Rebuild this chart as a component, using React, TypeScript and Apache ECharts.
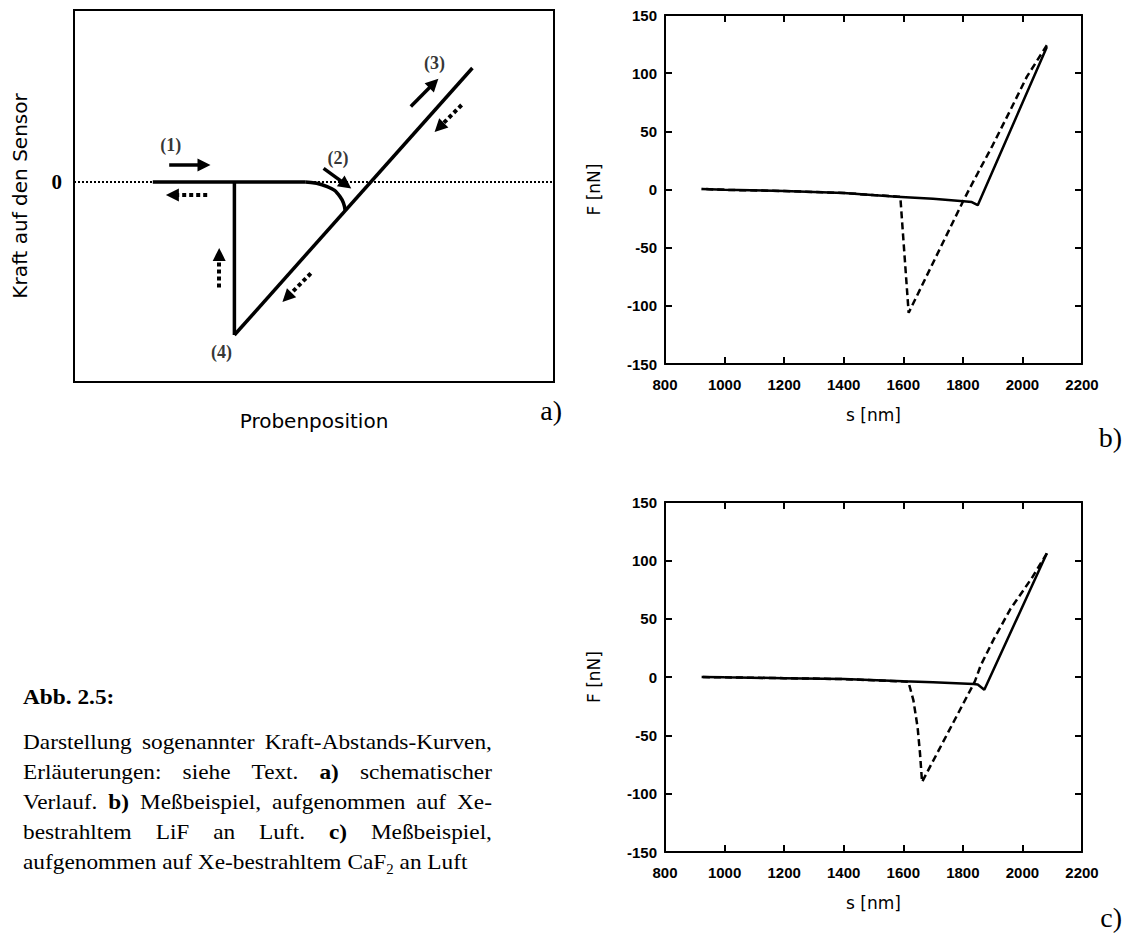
import React, { useEffect, useRef } from 'react';
import * as echarts from 'echarts';

// ---- Panel a: schematic force-distance curve (arbitrary units) ----
const schemX = [0, 120];
const schemY = [-100, 86];
const zeroLine = [[0, 0], [120, 0]];
const approachFlat = [[19.7, 0], [57.8, 0]];
const snapIn = [[57.8, 0], [63.3, -2.3], [66.5, -7.3], [67.8, -14.3]];
const contactLine = [[40.1, -76.5], [99.6, 57]];
const pullOff = [[40.1, 0], [40.1, -76.5]];
const solidArrows = [
  [[23.8, 8.5], [32.5, 8.5]],
  [[62.4, 6.8], [68.0, -1.35]],
  [[84.2, 37.7], [89.95, 49.35]],
];
const dottedArrows = [
  [[33.3, -6.5], [24.6, -6.5]],
  [[96.9, 38.5], [91.3, 27.3]],
  [[59.2, -45.7], [53.25, -57.7]],
  [[36.3, -52.7], [36.3, -36.2]],
];
const stepLabels = ['(1)', '(2)', '(3)', '(4)'];
const stepLabelPos = [[24.2, 18.5], [66.0, 11.8], [90.1, 59.3], [36.9, -84.8]];

// ---- Panel b: Xe-irradiated LiF in air ----
const sApproachB = [923, 1000, 1200, 1400, 1578, 1700, 1802, 1830, 1850, 2082];
const fApproachB = [0.5, -0.3, -1.3, -3.0, -6.2, -8.0, -10.0, -10.8, -13.5, 122.5];
const sRetractB = [2082, 2015, 1959, 1900, 1850, 1821, 1802, 1618, 1590, 1500, 1400, 1200, 1000, 923];
const fRetractB = [124, 97, 68, 38, 14, 0, -9.5, -106, -6.2, -4.8, -3.0, -1.3, -0.3, 0.5];

// ---- Panel c: Xe-irradiated CaF2 in air ----
const sApproachC = [923, 1000, 1200, 1400, 1600, 1700, 1836, 1850, 1872, 2082];
const fApproachC = [0, -0.3, -1.0, -1.8, -3.7, -4.5, -6.0, -6.5, -11, 106];
const sRetractC = [2082, 2032, 1959, 1903, 1860, 1840, 1663, 1656, 1648, 1634, 1617, 1500, 1400, 1200, 1000, 923];
const fRetractC = [106, 85, 58, 32, 10, -4, -90, -65, -43, -20, -4, -2.8, -1.8, -1.0, -0.3, 0];

const sRange = [800, 2200];
const sStep = 200;
const fRange = [-150, 150];
const fStep = 50;

// ---- Caption ----
const captionHeading = 'Abb. 2.5:';
const captionLines = [
  'Darstellung sogenannter Kraft-Abstands-Kurven,',
  'Erläuterungen: siehe Text. *a)* schematischer',
  'Verlauf. *b)* Meßbeispiel, aufgenommen auf Xe-',
  'bestrahltem LiF an Luft. *c)* Meßbeispiel,',
  'aufgenommen auf Xe-bestrahltem CaF_2 an Luft',
];
const panelTags = ['a)', 'b)', 'c)'];

const zip = (xs: number[], ys: number[]) => xs.map((x, i) => [x, ys[i]]);

const SERIF = 'Liberation Serif';
const SANS = 'Liberation Sans';
const WIDE = 'DejaVu Sans';

function buildCaption(): any[] {
  const ctx = document.createElement('canvas').getContext('2d')!;
  const FS = 22;
  const SUB = 14;
  const SX = 1.06;
  const LEFT = 23;
  const RIGHT = 492;
  const Y0 = 742;
  const PITCH = 30;
  const measure = (t: string, bold: boolean, size = FS) => {
    ctx.font = `${bold ? 'bold ' : ''}${size}px "${SERIF}"`;
    return ctx.measureText(t).width * SX;
  };
  const els: any[] = [];
  const txt = (t: string, x: number, y: number, bold: boolean, size = FS) => ({
    type: 'text',
    x,
    y,
    scaleX: SX,
    silent: true,
    style: {
      text: t,
      fontFamily: SERIF,
      fontSize: size,
      fontWeight: bold ? 'bold' : 'normal',
      fill: '#000',
      align: 'left',
      verticalAlign: 'middle',
      textAlign: 'left',
      textVerticalAlign: 'middle',
    },
  });
  els.push(txt(captionHeading, LEFT, 697, true));
  captionLines.forEach((line, li) => {
    const words = line.split(' ').map((w) => {
      const bold = w.startsWith('*') && w.endsWith('*');
      const clean = bold ? w.slice(1, -1) : w;
      const [base, sub] = clean.split('_');
      const width = measure(base, bold) + (sub ? measure(sub, bold, SUB) : 0);
      return { base, sub, bold, width };
    });
    const total = words.reduce((a, w) => a + w.width, 0);
    const last = li === captionLines.length - 1;
    const gap = last ? measure(' ', false) : (RIGHT - LEFT - total) / (words.length - 1);
    const y = Y0 + li * PITCH;
    let x = LEFT;
    words.forEach((w) => {
      els.push(txt(w.base, x, y, w.bold));
      if (w.sub) els.push(txt(w.sub, x + measure(w.base, w.bold), y + 7, w.bold, SUB));
      x += w.width + gap;
    });
  });
  const tagPos = [[562, 410], [1122, 437], [1122, 917]];
  panelTags.forEach((t, i) => {
    els.push({
      type: 'text',
      x: tagPos[i][0],
      y: tagPos[i][1],
      silent: true,
      style: {
        text: t,
        fontFamily: SERIF,
        fontSize: 28,
        fill: '#000',
        align: 'right',
        verticalAlign: 'middle',
        textAlign: 'right',
        textVerticalAlign: 'middle',
      },
    });
  });
  return els;
}

const tickLabel = {
  fontFamily: SANS,
  fontWeight: 'bold',
  fontSize: 15,
  color: '#000',
  formatter: (v: number) => String(v),
};
const axisName = { fontFamily: WIDE, fontSize: 17, color: '#000' };

function measuredAxes(grid: number) {
  const line = { show: true, onZero: false, lineStyle: { color: '#000', width: 2 } };
  const tick = { show: true, inside: true, length: 7, lineStyle: { color: '#000', width: 2 } };
  const x = [
    {
      gridIndex: grid, type: 'value', position: 'bottom', min: sRange[0], max: sRange[1], interval: sStep,
      axisLine: line, axisTick: tick, splitLine: { show: false },
      axisLabel: { ...tickLabel, margin: 13 },
      name: 's [nm]', nameLocation: 'middle', nameGap: 42, nameTextStyle: axisName,
    },
    {
      gridIndex: grid, type: 'value', position: 'top', min: sRange[0], max: sRange[1], interval: sStep,
      axisLine: line, axisTick: tick, splitLine: { show: false }, axisLabel: { show: false },
    },
  ];
  const y = [
    {
      gridIndex: grid, type: 'value', position: 'left', min: fRange[0], max: fRange[1], interval: fStep,
      axisLine: line, axisTick: tick, splitLine: { show: false },
      axisLabel: { ...tickLabel, margin: 8 },
      name: 'F [nN]', nameLocation: 'middle', nameRotate: 90, nameGap: 63, nameTextStyle: axisName,
    },
    {
      gridIndex: grid, type: 'value', position: 'right', min: fRange[0], max: fRange[1], interval: fStep,
      axisLine: line, axisTick: tick, splitLine: { show: false }, axisLabel: { show: false },
    },
  ];
  return { x, y };
}

const curve = (data: number[][], axis: number, dashed: boolean) => ({
  type: 'line',
  xAxisIndex: axis,
  yAxisIndex: axis,
  data,
  showSymbol: false,
  symbol: 'none',
  silent: true,
  lineStyle: { color: '#000', width: 2.5, type: dashed ? [7, 4] : 'solid' },
});

export default function App() {
  const ref = useRef<HTMLDivElement>(null);

  useEffect(() => {
    if (!ref.current) return;
    const chart = echarts.init(ref.current, undefined, { renderer: 'svg' });
    const b = measuredAxes(1);
    const c = measuredAxes(2);
    const schemLine = (data: number[][], extra: any = {}) => ({
      type: 'line', xAxisIndex: 0, yAxisIndex: 0, data, showSymbol: false, symbol: 'none', silent: true,
      lineStyle: { color: '#000', width: 3.5 }, ...extra,
    });
    const arrows = (list: number[][][], dotted: boolean) => ({
      type: 'lines',
      coordinateSystem: 'cartesian2d',
      xAxisIndex: 0,
      yAxisIndex: 0,
      silent: true,
      symbol: ['none', 'triangle'],
      symbolSize: 13,
      lineStyle: { color: '#000', width: dotted ? 4 : 3.5, type: dotted ? [4, 3] : 'solid', opacity: 1 },
      data: list.map((coords) => ({ coords })),
    });

    chart.setOption({
      animation: false,
      backgroundColor: '#fff',
      grid: [
        { left: 74, top: 10, width: 480, height: 372, show: true, borderColor: '#000', borderWidth: 2, outerBoundsMode: 'none' },
        { left: 665, top: 15, width: 417, height: 349, outerBoundsMode: 'none' },
        { left: 665, top: 502, width: 417, height: 350, outerBoundsMode: 'none' },
      ],
      xAxis: [
        {
          gridIndex: 0, type: 'value', min: schemX[0], max: schemX[1],
          axisLine: { show: false }, axisTick: { show: false }, axisLabel: { show: false }, splitLine: { show: false },
          name: 'Probenposition', nameLocation: 'middle', nameGap: 29,
          nameTextStyle: { fontFamily: WIDE, fontSize: 20, color: '#000' },
        },
        ...b.x,
        ...c.x,
      ],
      yAxis: [
        {
          gridIndex: 0, type: 'value', min: schemY[0], max: schemY[1], interval: 100,
          axisLine: { show: false }, axisTick: { show: false }, splitLine: { show: false },
          axisLabel: {
            formatter: (v: number) => (v === 0 ? '0' : ''),
            fontFamily: SERIF, fontWeight: 'bold', fontSize: 21, color: '#000', margin: 12,
            showMinLabel: false, showMaxLabel: false,
          },
          name: 'Kraft auf den Sensor', nameLocation: 'middle', nameRotate: 90, nameGap: 44,
          nameTextStyle: { fontFamily: WIDE, fontSize: 20, color: '#000' },
        },
        ...b.y,
        ...c.y,
      ],
      series: [
        schemLine(zeroLine, { lineStyle: { color: '#000', width: 2, type: [2, 2] } }),
        schemLine(approachFlat),
        schemLine(pullOff),
        schemLine(contactLine),
        schemLine(snapIn, { smooth: true }),
        arrows(solidArrows, false),
        arrows(dottedArrows, true),
        {
          type: 'scatter', xAxisIndex: 0, yAxisIndex: 0, silent: true, symbolSize: 0,
          data: stepLabels.map((name, i) => ({ name, value: stepLabelPos[i] })),
          label: {
            show: true, position: 'inside', formatter: '{b}',
            fontFamily: SERIF, fontWeight: 'bold', fontSize: 18, color: '#000',
          },
        },
        curve(zip(sRetractB, fRetractB), 1, true),
        curve(zip(sApproachB, fApproachB), 1, false),
        curve(zip(sRetractC, fRetractC), 3, true),
        curve(zip(sApproachC, fApproachC), 3, false),
      ],
      graphic: buildCaption(),
    });
    return () => chart.dispose();
  }, []);

  return (
    <div
      ref={ref}
      style={{ position: 'fixed', left: 0, top: 0, width: 1126, height: 934, background: '#fff' }}
    />
  );
}
